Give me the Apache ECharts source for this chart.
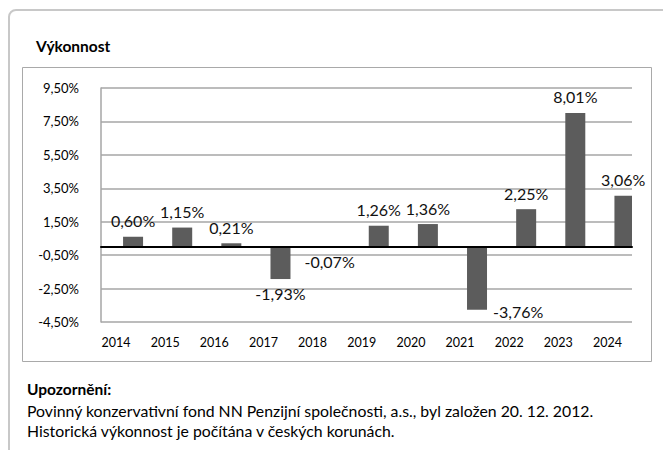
<!DOCTYPE html>
<html>
<head>
<meta charset="utf-8">
<title>Výkonnost</title>
<script src="https://cdn.jsdelivr.net/npm/echarts@6/dist/echarts.min.js"></script>
<style>
    html, body { margin: 0; padding: 0; background: #fff; }
    #chart { width: 663px; height: 450px; }
</style>
</head>
<body>
<div id="chart"></div>
<script>
// data
var years = ['2014', '2015', '2016', '2017', '2018', '2019', '2020', '2021', '2022', '2023', '2024'];
var performance = [0.60, 1.15, 0.21, -1.93, -0.07, 1.26, 1.36, -3.76, 2.25, 8.01, 3.06];
var yTicks = [-4.5, 9.5, 2]; // min, max, step
var noteTitle = 'Upozornění:';
var noteLines = [
    'Povinný konzervativní fond NN Penzijní společnosti, a.s., byl založen 20. 12. 2012.',
    'Historická výkonnost je počítána v českých korunách.'
];

var FONT = 'Lato';

// 0.6 -> "0,60%"
function pct(v) {
    return v.toFixed(2).replace('.', ',') + '%';
}

function initChart() {
    var myChart = echarts.init(document.getElementById('chart'), null, { renderer: 'svg' });

    var barData = [];
    for (var i = 0; i < performance.length; i++) {
        var v = performance[i];
        var item = { value: v, label: v >= 0 ? { position: 'top', distance: 8 } : { position: 'bottom', distance: 6 } };
        // the -3,76% label sits beside the bar end
        if (years[i] === '2021') {
            item.label = { position: ['100%', '100%'], align: 'left', verticalAlign: 'middle', offset: [6, 2] };
        }
        barData.push(item);
    }

    var option = {
        animation: false,
        textStyle: { fontFamily: FONT },
        title: {
            text: 'Výkonnost',
            left: 31,
            top: 33,
            textStyle: { fontFamily: FONT, fontSize: 15.5, fontWeight: 'bold', color: '#000' }
        },
        graphic: [
            {
                type: 'rect',
                shape: { x: 9, y: 10, width: 700, height: 500, r: [7, 0, 0, 0] },
                style: { fill: 'none', stroke: '#c8c8c8', lineWidth: 2 },
                silent: true
            },
            {
                type: 'rect',
                shape: { x: 22.5, y: 67.5, width: 629, height: 294 },
                style: { fill: 'none', stroke: '#a9a9a9', lineWidth: 1 },
                silent: true
            },
            {
                type: 'text',
                left: 27,
                top: 381,
                style: { text: noteTitle, fontFamily: FONT, fontSize: 15.5, fontWeight: 'bold', fill: '#000' }
            },
            {
                type: 'text',
                left: 27,
                top: 401,
                style: { text: noteLines.join('\n'), fontFamily: FONT, fontSize: 15.8, lineHeight: 19.5, fill: '#000' }
            }
        ],
        grid: [
            // gridlines + zero line
            { left: 101, right: 31, top: 88, bottom: 128 },
            // bars + year labels
            { left: 91.5, right: 31, top: 88, bottom: 128 }
        ],
        xAxis: [
            {
                type: 'category',
                gridIndex: 0,
                data: years,
                axisLine: { show: true, onZero: true, lineStyle: { color: '#000', width: 2 } },
                axisTick: { show: false },
                axisLabel: { show: false },
                z: 5
            },
            {
                type: 'category',
                gridIndex: 1,
                data: years,
                axisLine: { show: false },
                axisTick: { show: false },
                axisLabel: { fontFamily: FONT, fontSize: 12.5, color: '#000', margin: 14 }
            }
        ],
        yAxis: [
            {
                type: 'value',
                gridIndex: 0,
                min: yTicks[0],
                max: yTicks[1],
                interval: yTicks[2],
                axisLine: { show: true, lineStyle: { color: '#a6a6a6', width: 1.5 } },
                axisTick: { show: false },
                splitLine: { lineStyle: { color: '#a6a6a6', width: 1.5 } },
                axisLabel: { fontFamily: FONT, fontSize: 13, color: '#000', margin: 22, formatter: pct }
            },
            {
                type: 'value',
                gridIndex: 1,
                min: yTicks[0],
                max: yTicks[1],
                interval: yTicks[2],
                show: false
            }
        ],
        series: [
            {
                // empty spacer so the bars sit right of the year label
                type: 'bar',
                xAxisIndex: 1,
                yAxisIndex: 1,
                data: years.map(function () { return '-'; }),
                barWidth: 20,
                barGap: '70%',
                silent: true
            },
            {
                name: 'Výkonnost',
                type: 'bar',
                xAxisIndex: 1,
                yAxisIndex: 1,
                data: barData,
                barWidth: 20,
                barGap: '70%',
                itemStyle: { color: '#5c5c5c' },
                label: {
                    show: true,
                    fontFamily: FONT,
                    fontSize: 16,
                    color: '#111',
                    formatter: function (p) { return pct(p.value); }
                }
            }
        ]
    };

    myChart.setOption(option);
}

initChart();
</script>
</body>
</html>
